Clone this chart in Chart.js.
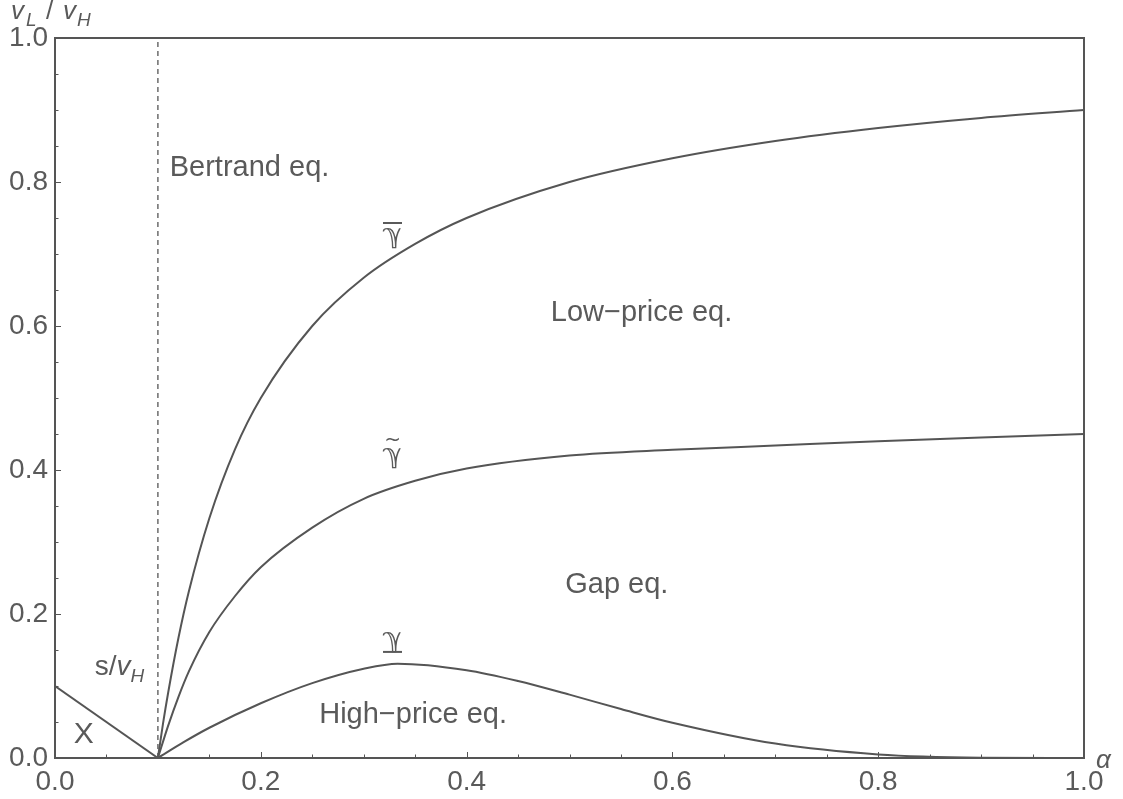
<!DOCTYPE html>
<html>
<head>
<meta charset="utf-8">
<script src="https://cdn.jsdelivr.net/npm/chart.js@4.4.1/dist/chart.umd.min.js"></script>
<style>
  html, body { margin: 0; padding: 0; background: #fff; }
  #wrap { width: 1123px; height: 799px; }
</style>
</head>
<body>
<div id="wrap"><canvas id="regionChart"></canvas></div>
<script>
/* ===============================
   DATA
   =============================== */
const xTicks = [0, 0.2, 0.4, 0.6, 0.8, 1.0];
const yTicks = [0, 0.2, 0.4, 0.6, 0.8, 1.0];

// gamma-bar (upper boundary)
const upperAlpha = [0.1, 0.105, 0.11, 0.12, 0.13, 0.15, 0.175, 0.2, 0.25, 0.3, 0.35, 0.4, 0.5, 0.6, 0.7, 0.8, 0.9, 1.0];
const upperRatio = [0, 0.048, 0.091, 0.167, 0.231, 0.333, 0.429, 0.5, 0.6, 0.667, 0.714, 0.75, 0.8, 0.833, 0.857, 0.875, 0.889, 0.9];

// gamma-tilde (middle boundary)
const tildeAlpha = [0.1, 0.11, 0.12, 0.13, 0.15, 0.175, 0.2, 0.25, 0.3, 0.35, 0.4, 0.5, 0.6, 0.7, 0.8, 0.9, 1.0];
const tildeRatio = [0, 0.045, 0.085, 0.12, 0.175, 0.225, 0.265, 0.32, 0.36, 0.385, 0.402, 0.42, 0.428, 0.434, 0.44, 0.445, 0.45];

// gamma-underbar (lower boundary)
const lowerAlpha = [0.1, 0.125, 0.15, 0.2, 0.25, 0.3, 0.333, 0.4, 0.45, 0.5, 0.55, 0.6, 0.7, 0.8, 0.9, 1.0];
const lowerRatio = [0, 0.022, 0.042, 0.076, 0.104, 0.124, 0.131, 0.122, 0.107, 0.088, 0.068, 0.049, 0.02, 0.005, 0.0005, 0];

// s/vH line down to the kink
const sLineAlpha = [0, 0.1];
const sLineRatio = [0.1, 0];

// dashed vertical at alpha = s/vH
const dashAlpha = [0.1, 0.1];
const dashRatio = [0, 1];

const INK = "#555555";
const TEXT = "#5a5a5a";
const SANS = "'Liberation Sans', Arial, sans-serif";

const toPoints = (xs, ys) => xs.map((v, i) => ({ x: v, y: ys[i] }));

/* ===============================
   FRAME, TICKS AND LABELS
   =============================== */
const decorPlugin = {
  id: "decor",
  afterDraw(chart) {
    const { ctx, chartArea: a, scales: { x, y } } = chart;
    ctx.save();

    // box frame
    ctx.strokeStyle = INK;
    ctx.lineWidth = 2;
    ctx.strokeRect(a.left, a.top, a.right - a.left, a.bottom - a.top);

    // inside ticks, major every 0.2 and minor every 0.05
    ctx.lineWidth = 1;
    for (let i = 1; i < 20; i++) {
      const v = i * 0.05;
      const len = i % 4 === 0 ? 6 : 3.5;
      const px = Math.round(x.getPixelForValue(v)) + 0.5;
      const py = Math.round(y.getPixelForValue(v)) + 0.5;
      ctx.beginPath();
      ctx.moveTo(px, a.bottom);
      ctx.lineTo(px, a.bottom - len);
      ctx.moveTo(a.left, py);
      ctx.lineTo(a.left + len, py);
      ctx.stroke();
    }

    ctx.fillStyle = TEXT;
    ctx.textBaseline = "middle";

    const put = (text, ax, ay, align, size) => {
      ctx.font = `${size || 29}px ${SANS}`;
      ctx.textAlign = align || "center";
      ctx.fillText(text, x.getPixelForValue(ax), y.getPixelForValue(ay));
    };

    put("Bertrand eq.", 0.1115, 0.819, "left");
    put("Low\u2212price eq.", 0.570, 0.618);
    put("Gap eq.", 0.546, 0.240);
    put("High\u2212price eq.", 0.348, 0.060);
    put("X", 0.028, 0.032, "center", 30);

    // s/vH
    ctx.textBaseline = "alphabetic";
    ctx.textAlign = "left";
    let sx = x.getPixelForValue(0.0386);
    const sy = y.getPixelForValue(0.115);
    ctx.font = `28px ${SANS}`;
    ctx.fillText("s/", sx, sy);
    sx += ctx.measureText("s/").width;
    ctx.font = `italic 28px ${SANS}`;
    ctx.fillText("v", sx, sy);
    sx += ctx.measureText("v").width;
    ctx.font = `italic 19px ${SANS}`;
    ctx.fillText("H", sx, sy + 7);

    // gamma labels with bar / tilde / underbar
    const gamma = (ax, ay, mark) => {
      const gx = x.getPixelForValue(ax);
      const gy = y.getPixelForValue(ay);
      ctx.font = `27px 'DejaVu Sans', sans-serif`;
      ctx.textAlign = "center";
      ctx.textBaseline = "middle";
      ctx.fillText("\u213d", gx, gy);
      ctx.strokeStyle = TEXT;
      ctx.lineWidth = 2;
      if (mark === "bar" || mark === "under") {
        const ly = mark === "bar" ? gy - 13 : gy + 12;
        ctx.beginPath();
        ctx.moveTo(gx - 9.5, ly);
        ctx.lineTo(gx + 9.5, ly);
        ctx.stroke();
      } else {
        ctx.font = `20px 'DejaVu Sans', sans-serif`;
        ctx.fillText("~", gx, gy - 15);
      }
    };
    gamma(0.328, 0.725, "bar");
    gamma(0.328, 0.42, "tilde");
    gamma(0.328, 0.164, "under");

    // axis titles
    ctx.textAlign = "left";
    ctx.textBaseline = "alphabetic";
    ctx.font = `italic 26px ${SANS}`;
    ctx.fillText("v", 11, 19);
    ctx.fillText("v", 63, 19);
    ctx.fillText("\u03b1", 1096, 768);
    ctx.font = `italic 19px ${SANS}`;
    ctx.fillText("L", 26, 26);
    ctx.fillText("H", 77, 26);
    ctx.font = `26px ${SANS}`;
    ctx.fillText("/", 46, 19);

    ctx.restore();
  }
};

/* ===============================
   CHART
   =============================== */
const curve = (data, extra) => Object.assign({
  data,
  showLine: true,
  borderColor: INK,
  borderWidth: 2,
  pointRadius: 0,
  fill: false,
  cubicInterpolationMode: "monotone"
}, extra || {});

new Chart(document.getElementById("regionChart").getContext("2d"), {
  type: "scatter",
  data: {
    datasets: [
      curve(toPoints(upperAlpha, upperRatio)),
      curve(toPoints(tildeAlpha, tildeRatio)),
      curve(toPoints(lowerAlpha, lowerRatio)),
      curve(toPoints(sLineAlpha, sLineRatio), { cubicInterpolationMode: "default", tension: 0 }),
      curve(toPoints(dashAlpha, dashRatio), { borderWidth: 1.3, borderDash: [5, 4], cubicInterpolationMode: "default", tension: 0 })
    ]
  },
  options: {
    responsive: true,
    maintainAspectRatio: false,
    animation: false,
    layout: { padding: { top: 38, right: 39, left: 0, bottom: 0 } },
    plugins: {
      legend: { display: false },
      tooltip: { enabled: false }
    },
    scales: {
      x: {
        type: "linear",
        min: 0,
        max: 1,
        afterBuildTicks: s => { s.ticks = xTicks.map(v => ({ value: v })); },
        afterFit: s => { s.height = 41; },
        grid: { display: false, drawTicks: false },
        border: { display: false },
        ticks: {
          padding: 7,
          color: TEXT,
          font: { family: SANS, size: 28 },
          maxRotation: 0,
          callback: v => v.toFixed(1)
        }
      },
      y: {
        type: "linear",
        min: 0,
        max: 1,
        afterBuildTicks: s => { s.ticks = yTicks.map(v => ({ value: v })); },
        afterFit: s => { s.width = 55; },
        grid: { display: false, drawTicks: false },
        border: { display: false },
        ticks: {
          padding: 7,
          color: TEXT,
          font: { family: SANS, size: 28 },
          callback: v => v.toFixed(1)
        }
      }
    }
  },
  plugins: [decorPlugin]
});
</script>
</body>
</html>
